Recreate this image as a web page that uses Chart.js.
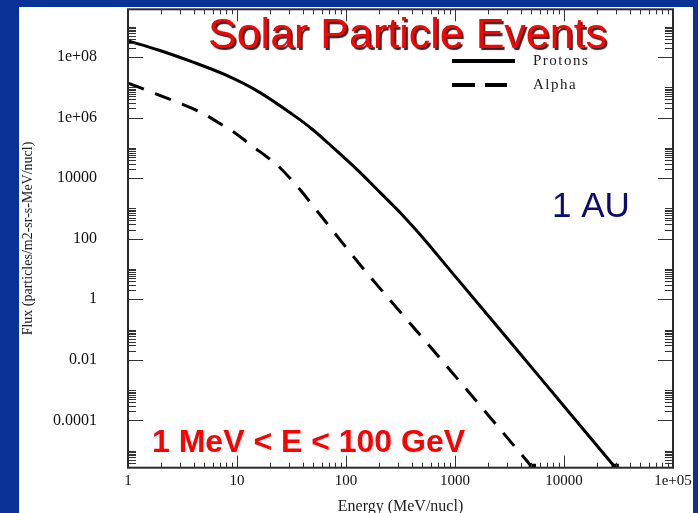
<!DOCTYPE html>
<html>
<head>
<meta charset="utf-8">
<script src="https://cdn.jsdelivr.net/npm/chart.js@4.4.1/dist/chart.umd.min.js"></script>
<style>
  html, body { margin: 0; padding: 0; width: 698px; height: 513px; overflow: hidden; background: #0a3196; }
  #panel { position: absolute; left: 19px; top: 7px; width: 674px; height: 506px; background: #fff; }
</style>
</head>
<body>
<div id="panel"><canvas id="fluxChart"></canvas></div>
<script>
// values (energy in MeV/nucl, flux in particles/m2-sr-s-MeV/nucl)
const protonEnergy = [1, 1.9, 3.84, 7.76, 15.7, 31.8, 48.4, 74, 130, 205, 324, 478, 1000, 3162, 10000, 29500];
const protonFlux = [3.4e8, 1.7e8, 7.0e7, 2.6e7, 7.2e6, 1.32e6, 4.27e5, 1.12e5, 1.74e4, 3.39e3, 646, 138, 5.8, 0.042, 2.95e-4, 2.8e-6];
const alphaEnergy = [1, 1.9, 3.84, 5.08, 7.76, 8.93, 14.6, 18.1, 23.9, 36.6, 52, 134, 205, 590, 2000, 5130];
const alphaFlux = [1.38e7, 5.6e6, 2.04e6, 1.26e6, 5.0e5, 3.7e5, 9.8e4, 5.6e4, 2.5e4, 4.8e3, 1000, 14.1, 2.29, 0.0275, 1.55e-4, 2.8e-6];

// axis ticks
const xMajor = [1, 10, 100, 1000, 10000, 100000];
const xLabels = ['1', '10', '100', '1000', '10000', '1e+05'];
const yMajor = [1e-4, 1e-2, 1, 1e2, 1e4, 1e6, 1e8];
const yLabels = ['0.0001', '0.01', '1', '100', '10000', '1e+06', '1e+08'];
const yMin = 2.75e-6, yMax = 3.75e9;

// minor ticks: 2..9 in every x decade, 2..10 above every labelled y decade
const xMinor = [];
for (let e = 0; e < 5; e++) for (let k = 2; k <= 9; k++) xMinor.push(k * Math.pow(10, e));
const yMinor = [];
for (let e = -6; e <= 8; e += 2) for (let k = 2; k <= 10; k++) {
    const v = k * Math.pow(10, e);
    if (v > yMin && v < yMax) yMinor.push(v);
}

function labelFor(v, majors, labels) {
    const i = majors.findIndex(m => Math.abs(Math.log10(m) - Math.log10(v)) < 1e-6);
    return i >= 0 ? labels[i] : '';
}

const serif = 'Liberation Serif';

const frame = {
    id: 'frame',
    afterDatasetsDraw(chart) {
        const { ctx, chartArea: a, scales: { x, y } } = chart;
        ctx.save();
        ctx.strokeStyle = '#333';
        ctx.lineWidth = 1;
        ctx.beginPath();
        const xt = (v, len) => {
            const px = Math.round(x.getPixelForValue(v)) + 0.5;
            ctx.moveTo(px, a.bottom); ctx.lineTo(px, a.bottom - len);
            ctx.moveTo(px, a.top); ctx.lineTo(px, a.top + len);
        };
        const yt = (v, len) => {
            const py = Math.round(y.getPixelForValue(v)) + 0.5;
            ctx.moveTo(a.left, py); ctx.lineTo(a.left + len, py);
            ctx.moveTo(a.right, py); ctx.lineTo(a.right - len, py);
        };
        xMajor.forEach(v => xt(v, 12));
        xMinor.forEach(v => xt(v, 5));
        yMajor.forEach(v => yt(v, 15));
        yMinor.forEach(v => yt(v, 8));
        ctx.stroke();

        ctx.lineWidth = 2;
        ctx.strokeStyle = '#2b2b2b';
        ctx.strokeRect(a.left, a.top, a.width, a.height);

        // legend
        const sets = chart.data.datasets;
        ctx.font = '15px "' + serif + '"';
        ctx.letterSpacing = '1.5px';
        ctx.fillStyle = '#222';
        ctx.textBaseline = 'middle';
        [[54, 63], [78, 55]].forEach(([ly, w], i) => {
            ctx.beginPath();
            ctx.lineWidth = 4;
            ctx.strokeStyle = sets[i].borderColor;
            ctx.setLineDash(i === 1 ? [23, 10] : []);
            ctx.moveTo(433, ly); ctx.lineTo(433 + w, ly);
            ctx.stroke();
            ctx.fillText(sets[i].label, 514, ly);
        });
        ctx.setLineDash([]);
        ctx.letterSpacing = '0px';

        // annotations
        ctx.textBaseline = 'alphabetic';
        ctx.textAlign = 'left';
        ctx.font = '43px "Liberation Sans"';
        ctx.shadowColor = 'rgba(0,0,0,0.85)';
        ctx.shadowOffsetX = 2;
        ctx.shadowOffsetY = 2;
        ctx.shadowBlur = 1;
        ctx.fillStyle = '#ff0000';
        ctx.fillText('Solar Particle Events', 189, 41);
        ctx.shadowColor = 'transparent';

        ctx.font = '35px "Liberation Sans"';
        ctx.fillStyle = '#0c0c6e';
        ctx.fillText('1 AU', 533, 210);

        ctx.font = 'bold 32px "Liberation Sans"';
        ctx.fillStyle = '#ff0000';
        ctx.fillText('1 MeV < E < 100 GeV', 133, 445);
        ctx.restore();
    }
};

const lastOnly = n => Array.from({ length: n }, (_, i) => i === n - 1 ? 3 : 0);

new Chart(document.getElementById('fluxChart'), {
    type: 'line',
    data: {
        datasets: [
            {
                label: 'Protons',
                data: protonEnergy.map((e, i) => ({ x: e, y: protonFlux[i] })),
                borderColor: '#000',
                backgroundColor: '#000',
                borderWidth: 3,
                pointStyle: 'rect',
                pointRadius: lastOnly(protonEnergy.length),
                cubicInterpolationMode: 'monotone'
            },
            {
                label: 'Alpha',
                data: alphaEnergy.map((e, i) => ({ x: e, y: alphaFlux[i] })),
                borderColor: '#000',
                backgroundColor: '#000',
                borderWidth: 3,
                borderDash: [17, 12],
                pointStyle: 'rect',
                pointRadius: lastOnly(alphaEnergy.length),
                cubicInterpolationMode: 'monotone'
            }
        ]
    },
    options: {
        responsive: true,
        maintainAspectRatio: false,
        animation: false,
        devicePixelRatio: 1,
        layout: { autoPadding: false, padding: { top: 2.3, right: 20, left: 0, bottom: 0 } },
        plugins: { legend: { display: false }, tooltip: { enabled: false } },
        scales: {
            x: {
                type: 'logarithmic',
                position: 'bottom',
                min: 1,
                max: 1e5,
                afterBuildTicks: s => { s.ticks = xMajor.concat(xMinor).sort((a, b) => a - b).map(v => ({ value: v })); },
                afterFit: s => { s.height = 45.3; s.paddingLeft = 0; s.paddingRight = 0; },
                grid: { display: false, drawTicks: false },
                border: { display: false },
                ticks: {
                    autoSkip: false,
                    maxRotation: 0,
                    padding: 4,
                    color: '#111',
                    font: { family: serif, size: 15 },
                    callback: v => labelFor(v, xMajor, xLabels)
                },
                title: {
                    display: true,
                    text: 'Energy (MeV/nucl)',
                    color: '#222',
                    font: { family: serif, size: 16 },
                    padding: { top: 0, bottom: -3.5 }
                }
            },
            y: {
                type: 'logarithmic',
                position: 'left',
                min: yMin,
                max: yMax,
                afterBuildTicks: s => { s.ticks = yMajor.concat(yMinor).sort((a, b) => a - b).map(v => ({ value: v })); },
                afterFit: s => { s.width = 109; s.paddingTop = 0; s.paddingBottom = 0; },
                grid: { display: false, drawTicks: false },
                border: { display: false },
                ticks: {
                    autoSkip: false,
                    padding: 31,
                    color: '#111',
                    font: { family: serif, size: 16 },
                    callback: v => labelFor(v, yMajor, yLabels)
                },
                title: {
                    display: true,
                    text: 'Flux (particles/m2-sr-s-MeV/nucl)',
                    color: '#222',
                    font: { family: serif, size: 14 },
                    padding: { top: 1, bottom: 0 }
                }
            }
        }
    },
    plugins: [frame]
});
</script>
</body>
</html>
